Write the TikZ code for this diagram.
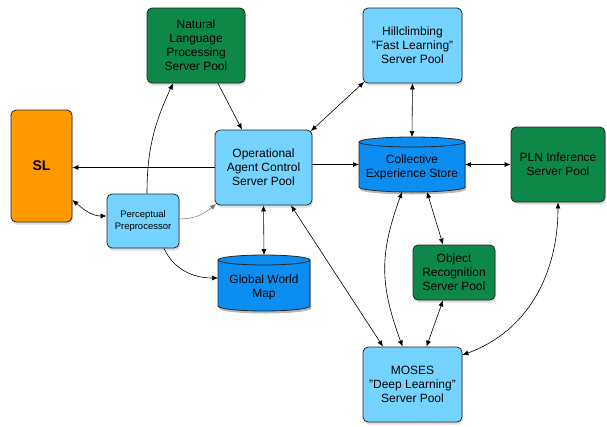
\documentclass[tikz,border=0pt]{standalone}
\usepackage{fontspec}
\setmainfont{Liberation Sans}
\usetikzlibrary{arrows.meta,shadows}
\pgfdeclarelayer{bg}
\pgfsetlayers{bg,main}
\definecolor{lblue}{HTML}{74D3FF}
\definecolor{cblue}{HTML}{0B8DF2}
\definecolor{dgreen}{HTML}{0E8849}
\definecolor{orng}{HTML}{FF9900}
\newcommand{\mycyl}[2]{%
 \fill[black,opacity=0.28] ([xshift=1pt,yshift=-7.5pt]#1.north west) -- ([xshift=1pt,yshift=2.5pt]#1.south west) arc[start angle=180,end angle=360,x radius=#2pt,y radius=5pt] -- ([xshift=1pt,yshift=-7.5pt]#1.north east) arc[start angle=0,end angle=180,x radius=#2pt,y radius=5pt] -- cycle;
 \draw[fill=cblue, line width=0.8pt, draw=black!85] ([yshift=-5pt]#1.north west) -- ([yshift=5pt]#1.south west) arc[start angle=180,end angle=360,x radius=#2pt,y radius=5pt] -- ([yshift=-5pt]#1.north east) arc[start angle=0,end angle=180,x radius=#2pt,y radius=5pt] -- cycle;
 \draw[line width=0.8pt, draw=black!85] ([yshift=-5pt]#1.north west) arc[start angle=180,end angle=360,x radius=#2pt,y radius=5pt];
}
\begin{document}
\begin{tikzpicture}[x=1pt,y=1pt,
 box/.style={draw=black!85, line width=0.8pt, rounded corners=5pt, inner sep=0pt, align=center,
   font=\fontsize{12}{14}\selectfont,
   drop shadow={shadow xshift=1pt,shadow yshift=-2.5pt,opacity=0.28}},
 lb/.style={box, fill=lblue},
 gr/.style={box, fill=dgreen},
 geo/.style={inner sep=0pt, outer sep=0pt},
 txt/.style={align=center, font=\fontsize{12}{14}\selectfont},
 arr/.style={-{Latex[length=6pt,width=5pt]}, line width=0.6pt},
 darr/.style={{Latex[length=6pt,width=5pt]}-{Latex[length=6pt,width=5pt]}, line width=0.6pt},
]
\useasboundingbox (0,0) rectangle (607,-426);
\node[gr, minimum width=98pt, minimum height=75pt] (nlp) at (196,-45.5) {Natural\\Language\\Processing\\Server Pool};
\node[box, fill=orng, minimum width=61pt, minimum height=112pt, font=\bfseries\fontsize{14}{16}\selectfont] (sl) at (41.5,-166) {SL};
\node[lb, minimum width=97pt, minimum height=75pt] (op) at (263.5,-167.5) {Operational\\Agent Control\\Server Pool};
\node[lb, minimum width=72pt, minimum height=54pt, font=\fontsize{9.5}{12}\selectfont] (perc) at (143,-221) {Perceptual\\Preprocessor};
\node[geo, minimum width=92pt, minimum height=56pt] (gwm) at (264,-283) {};
\node[lb, minimum width=99pt, minimum height=75pt] (hill) at (412.5,-45.5) {Hillclimbing\\"Fast Learning"\\Server Pool};
\node[geo, minimum width=106pt, minimum height=55pt] (coll) at (412,-164.5) {};
\node[gr, minimum width=94pt, minimum height=75pt] (pln) at (558,-164.5) {PLN Inference\\Server Pool};
\node[gr, minimum width=82pt, minimum height=55pt] (objr) at (454,-272.5) {Object\\Recognition\\Server Pool};
\node[lb, minimum width=99pt, minimum height=75pt] (moses) at (412.5,-384.5) {MOSES\\"Deep Learning"\\Server Pool};
\begin{pgfonlayer}{bg}
\mycyl{coll}{53}
\mycyl{gwm}{46}
\end{pgfonlayer}
\node[txt] (colltxt) at ([yshift=-3pt]coll.center) {Collective\\Experience Store};
\node[txt] (gwmtxt) at ([yshift=-4pt]gwm.center) {Global World\\Map};
% connectors
\draw[arr] ([xshift=22pt]nlp.south) -- ([xshift=-21.5pt]op.north);
\draw[arr] ([xshift=4pt]perc.north) to[out=90,in=-115] ([xshift=-23pt]nlp.south);
\draw[arr] (op.west) -- (op.west -| sl.east);
\draw[darr] ([yshift=-34pt]sl.east) to[out=-40,in=180] ([yshift=5pt]perc.west);
\draw[arr, draw=black!55, line width=0.5pt] ([yshift=2pt]perc.east) to[out=0,in=-140] ([xshift=1.5pt,yshift=1.5pt]op.south west);
\draw[arr] ([xshift=21pt]perc.south) to[out=-65,in=180] ([yshift=5pt]gwm.west);
\draw[darr] (op.south) -- (gwm.north);
\draw[darr] ([xshift=-1.5pt,yshift=-1.5pt]op.north east) -- ([xshift=1.5pt,yshift=1.5pt]hill.south west);
\draw[darr] (hill.south) -- (coll.north);
\draw[arr] (op.east |- coll.west) -- (coll.west);
\draw[darr] (coll.east) -- (pln.west);
\draw[darr] ([xshift=27.5pt]op.south) -- ([xshift=-29.5pt]moses.north);
\draw[darr] ([xshift=-10pt]coll.south) to[out=-110,in=110,looseness=1.1] ([xshift=-10pt]moses.north);
\draw[darr] ([xshift=15pt]coll.south) -- ([xshift=-11pt]objr.north);
\draw[darr] ([xshift=-11pt]objr.south) -- ([xshift=14pt]moses.north);
\draw[darr] (pln.south) to[out=-90,in=20] ([yshift=29.5pt]moses.east);
\end{tikzpicture}
\end{document}
